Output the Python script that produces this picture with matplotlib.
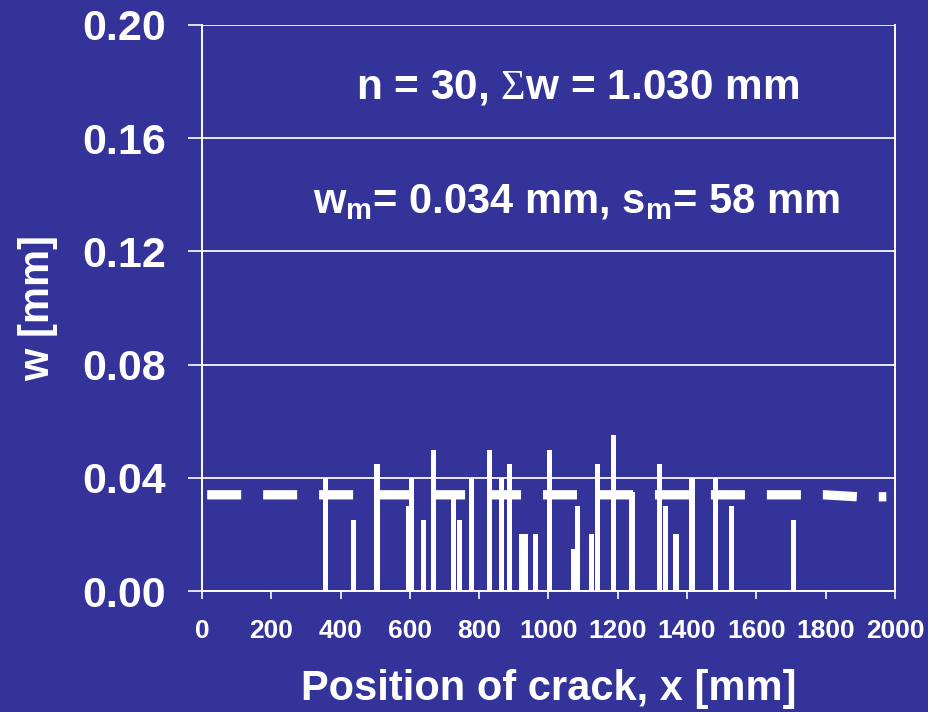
import matplotlib
matplotlib.use("Agg")
import matplotlib.pyplot as plt
from matplotlib import font_manager

# Crack positions along the member [mm] and crack widths [mm]
crack_x = [356, 437, 505, 595, 605, 639, 668, 725, 743, 778,
           829, 864, 887, 922, 933, 962, 1002, 1073, 1084, 1125,
           1142, 1187, 1241, 1320, 1337, 1368, 1414, 1483, 1529, 1708]
crack_w = [0.040, 0.025, 0.045, 0.030, 0.040, 0.025, 0.050, 0.035, 0.025, 0.040,
           0.050, 0.040, 0.045, 0.020, 0.020, 0.020, 0.050, 0.015, 0.030, 0.020,
           0.045, 0.055, 0.035, 0.045, 0.030, 0.020, 0.040, 0.040, 0.030, 0.025]

# Mean crack width line
mean_x = [15, 1795, 1893, 1975]
mean_w = [0.034, 0.034, 0.0333, 0.0333]

x_ticks = [0, 200, 400, 600, 800, 1000, 1200, 1400, 1600, 1800, 2000]
y_ticks = [0.00, 0.04, 0.08, 0.12, 0.16, 0.20]
y_tick_labels = ["0.00", "0.04", "0.08", "0.12", "0.16", "0.20"]

summary_line1 = r"n = 30, $\mathrm{\Sigma}$w = 1.030 mm"
summary_line2 = r"w$_{\mathbf{m}}$= 0.034 mm, s$_{\mathbf{m}}$= 58 mm"

BG = "#333399"
FG = "white"

available = {f.name for f in font_manager.fontManager.ttflist}
narrow = "Liberation Sans Narrow" if "Liberation Sans Narrow" in available else "Liberation Sans"

plt.rcParams["font.family"] = ["Liberation Sans", "DejaVu Sans"]
plt.rcParams["font.weight"] = "bold"
plt.rcParams["mathtext.fontset"] = "custom"
plt.rcParams["mathtext.rm"] = "Liberation Serif:normal"
plt.rcParams["mathtext.bf"] = "Liberation Sans:bold"
plt.rcParams["lines.scale_dashes"] = False

fig = plt.figure(figsize=(9.29, 7.12), dpi=100, facecolor=BG)
ax = fig.add_axes([0.2174, 0.1699, 0.7460, 0.7950], facecolor=BG)

ax.bar(crack_x, crack_w, width=15, color=FG, edgecolor="none", zorder=3)
ax.plot(mean_x, mean_w, color=FG, lw=6.7, dashes=(24.5, 15.8),
        solid_capstyle="butt", dash_capstyle="butt", zorder=4)

ax.set_xlim(0, 2000)
ax.set_ylim(0, 0.20)
ax.set_xticks(x_ticks)
ax.set_xticklabels([str(t) for t in x_ticks], fontfamily=narrow,
                   fontsize=19, fontweight="bold", color=FG)
ax.set_yticks(y_ticks)
ax.set_yticklabels(y_tick_labels, fontsize=31, fontweight="bold", color=FG)

ax.yaxis.grid(True, color="#e8e8f4", lw=1.4, zorder=1)
ax.set_axisbelow(True)
ax.tick_params(axis="y", direction="out", length=10, width=1.2, color=FG, pad=16)
ax.tick_params(axis="x", direction="out", length=6, width=1.2, color=FG, pad=14)

for side in ("left", "right", "bottom"):
    ax.spines[side].set_color(FG)
    ax.spines[side].set_linewidth(1.4)
ax.spines["top"].set_visible(False)

ax.set_xlabel("Position of crack, x [mm]", fontsize=30, fontweight="bold",
              color=FG, labelpad=19)
ax.set_ylabel("w [mm]", fontsize=30, fontweight="bold", color=FG, labelpad=17)

ax.text(1085, 0.178, summary_line1, ha="center", va="center",
        fontsize=30.5, fontweight="bold", color=FG)
ax.text(1079, 0.1373, summary_line2, ha="center", va="center",
        fontsize=30, fontweight="bold", color=FG)

fig.savefig("out.png", dpi=100, facecolor=BG)
